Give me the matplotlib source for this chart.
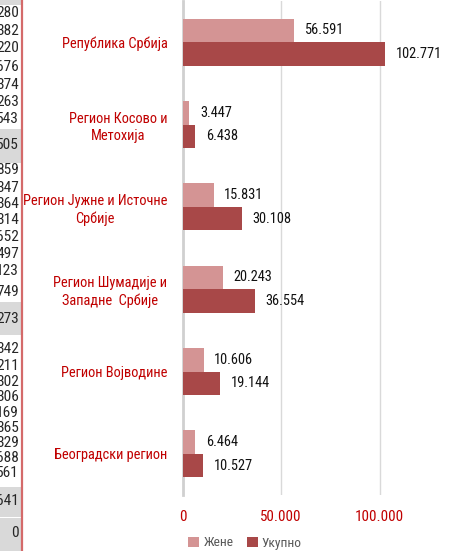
import numpy as np
import matplotlib.pyplot as plt
from matplotlib import font_manager
from matplotlib.ticker import FuncFormatter

# pick a narrow font if there is one
fonts = font_manager.fontManager.ttflist
narrow = None
for want in ['Liberation Sans Narrow', 'Arial Narrow', 'Roboto Condensed', 'Open Sans Condensed']:
    if any(f.name == want for f in fonts):
        narrow = (want, 'normal')
        break
if narrow is None:
    for f in fonts:
        if f.stretch in ('condensed', 'semi-condensed') and f.name in ('DejaVu Sans', 'Roboto', 'Open Sans', 'Noto Sans', 'Liberation Sans'):
            narrow = (f.name, 'condensed')
            break
if narrow is None:
    narrow = ('Liberation Sans', 'normal')
plt.rcParams['font.family'] = [narrow[0], 'DejaVu Sans']
plt.rcParams['font.stretch'] = narrow[1]

# данни
regions = ['Република Србија', 'Регион Косово и\nМетохија',
           'Регион Јужне и Источне\nСрбије', 'Регион Шумадије и\nЗападне  Србије',
           'Регион Војводине', 'Београдски регион']
zene = [56591, 3447, 15831, 20243, 10606, 6464]
ukupno = [102771, 6438, 30108, 36554, 19144, 10527]

# cut-off spreadsheet column on the left
strip_vals = ['280', '382', '220', '676', '374', '263', '543', '505', '859', '347',
              '364', '314', '652', '497', '123', '749', '273', '342', '211', '302',
              '306', '169', '365', '329', '688', '561', '641', '0']
strip_y = [13, 31, 48, 67, 85, 102, 119, 145, 170, 188, 204, 220, 237, 254, 271,
           292, 319, 349, 366, 382, 397, 413, 428, 443, 458, 473, 501, 533]
strip_bands = [(0, 5), (129, 163), (302, 335), (487, 517), (518, 551)]

W, H = 459, 551
fig = plt.figure(figsize=(W / 100, H / 100), dpi=100)
renderer = fig.canvas.get_renderer()


def fit_size(s, width_px, max_size):
    t = fig.text(0, 0, s, fontsize=10)
    w = t.get_window_extent(renderer).width
    t.remove()
    return min(max_size, 10 * width_px / w)


val_fs = fit_size('56.591', 39, 12)
cat_fs = fit_size('Регион Јужне и Источне', 146, 11.5)
tick_fs = fit_size('50.000', 41, 12)
strip_fs = fit_size('0', 7.5, 12)
leg_fs = fit_size('Укупно', 40, 10.5)

# left strip
sa = fig.add_axes([0, 0, 21 / W, 1])
sa.set_xlim(0, 21)
sa.set_ylim(H, 0)
sa.axis('off')
for y0, y1 in strip_bands:
    sa.axhspan(y0, y1, color='#d9d9d9', lw=0)
for v, y in zip(strip_vals, strip_y):
    sa.text(19, y, v, ha='right', va='center', fontsize=strip_fs, color='#262626', clip_on=True)
fig.add_artist(plt.Line2D([21.5 / W, 21.5 / W], [0, 1], color='#d46a6a', lw=1.6))

# main chart
ax = fig.add_axes([182.7 / W, 1 - 495 / H, 1 - 182.7 / W, (495 - 1) / H])
y = np.arange(len(regions))
h = 0.285
ax.barh(y - h / 2, zene, height=h, color='#d49494', label='Жене', zorder=3)
ax.barh(y + h / 2, ukupno, height=h, color='#a84848', label='Укупно', zorder=3)

for i in range(len(regions)):
    ax.annotate(f'{zene[i]:,}'.replace(',', '.'), (zene[i], y[i] - h / 2),
                xytext=(7.5, 0), textcoords='offset points', va='center',
                fontsize=val_fs, color='#111111')
    ax.annotate(f'{ukupno[i]:,}'.replace(',', '.'), (ukupno[i], y[i] + h / 2),
                xytext=(7.5, 0), textcoords='offset points', va='center',
                fontsize=val_fs, color='#111111')

ax.set_xlim(0, 276.3 / 98.5 * 50000)
ax.set_ylim(len(regions) - 0.5, -0.5)
ax.set_xticks([0, 50000, 100000])
ax.xaxis.set_major_formatter(FuncFormatter(lambda v, p: f'{int(v):,}'.replace(',', '.')))
ax.set_yticks(y)
ax.set_yticklabels(regions, multialignment='center', linespacing=1.3)
ax.tick_params(axis='y', length=0, pad=11, labelsize=cat_fs, labelcolor='#c00000')
ax.tick_params(axis='x', length=0, pad=11, labelsize=tick_fs, labelcolor='#c00000')
for s in ['top', 'right', 'bottom']:
    ax.spines[s].set_visible(False)
ax.spines['left'].set_color('#d0d0d0')
ax.spines['left'].set_linewidth(2)
ax.grid(axis='x', color='#d9d9d9', lw=1, zorder=0)

ax.legend(loc='center', bbox_to_anchor=(245 / W, 1 - 543 / H), bbox_transform=fig.transFigure,
          ncol=2, frameon=False, fontsize=leg_fs, handlelength=0.8, handleheight=0.8,
          handletextpad=0.3, columnspacing=1.0, labelcolor='#595959')

plt.savefig('out.png', dpi=100)
